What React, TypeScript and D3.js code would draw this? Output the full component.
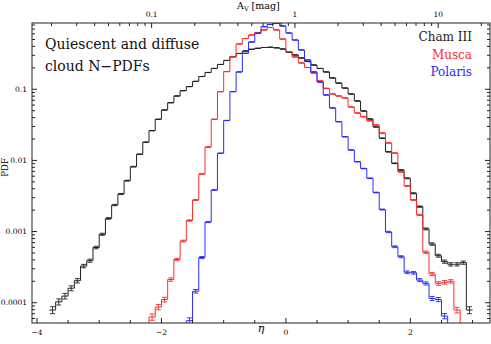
import React, { useEffect, useRef } from "react";
import * as d3 from "d3";

// histogram bin width in eta = ln(A_V / A_V0)
const BIN = 0.1;
const AV0 = 0.865;

const chamStart = -3.8;
const chamPdf = [
  7.9e-5, 1.03e-4, 1.24e-4, 1.6e-4, 2.04e-4, 3.28e-4, 3.9e-4, 5.97e-4, 9.16e-4, 1.53e-3,
  2.36e-3, 3.37e-3, 5.19e-3, 8.16e-3, 0.0122, 0.018, 0.0262, 0.0378, 0.0511, 0.0647,
  0.0804, 0.0955, 0.109, 0.129, 0.151, 0.172, 0.196, 0.223, 0.254, 0.288,
  0.318, 0.345, 0.364, 0.376, 0.386, 0.389, 0.382, 0.368, 0.333, 0.303,
  0.275, 0.245, 0.219, 0.196, 0.175, 0.144, 0.122, 0.104, 0.0858, 0.0684,
  0.0494, 0.0382, 0.0295, 0.0205, 0.0132, 0.0091, 0.00733, 0.00561, 0.00345, 0.00224,
  0.00109, 6.68e-4, 4.58e-4, 3.78e-4, 3.47e-4, 3.47e-4, 3.66e-4, 7.9e-5,
];

const muscaStart = -2.2;
const muscaPdf = [
  6.3e-5, 8.7e-5, 1.11e-4, 2.12e-4, 4.05e-4, 7.36e-4, 1.43e-3, 2.78e-3, 6.44e-3, 0.0154,
  0.0378, 0.0925, 0.177, 0.284, 0.433, 0.516, 0.578, 0.627, 0.681, 0.738,
  0.681, 0.508, 0.339, 0.284, 0.234, 0.202, 0.169, 0.131, 0.103, 0.0858,
  0.0804, 0.0754, 0.0563, 0.0463, 0.0411, 0.0361, 0.0315, 0.0243, 0.0176, 0.0127,
  0.00687, 0.00437, 0.00278, 0.00171, 5.12e-4, 2.54e-4, 1.87e-4, 1.94e-4, 2.0e-4, 7.9e-5,
];

const polarisStart = -1.6;
const polarisPdf = [
  5.6e-5, 1.45e-4, 4.32e-4, 1.36e-3, 3.84e-3, 0.0126, 0.0364, 0.0925, 0.175, 0.32,
  0.461, 0.611, 0.757, 0.813, 0.853, 0.774, 0.617, 0.492, 0.356, 0.258,
  0.175, 0.126, 0.083, 0.0546, 0.035, 0.0215, 0.014, 0.00959, 0.00769, 0.00561,
  0.00354, 0.00204, 9.86e-4, 6.12e-4, 4.43e-4, 2.68e-4, 2.64e-4, 2.08e-4, 1.87e-4, 1.15e-4,
  1.11e-4, 6.5e-5,
];

const series = [
  { name: "Cham III", start: chamStart, values: chamPdf, color: "#222222", err: 0.001, closed: false },
  { name: "Musca", start: muscaStart, values: muscaPdf, color: "#ff2a2a", err: 0.0008, closed: true },
  { name: "Polaris", start: polarisStart, values: polarisPdf, color: "#2a2aff", err: 0.0007, closed: true },
];

const etaLabels = [-4, -2, 0, 2];
const pdfLabels = [0.1, 0.01, 0.001, 0.0001];
const avLabels = [0.1, 1, 10];

function App() {
  const svgRef = useRef(null);

  useEffect(() => {
    const W = 491;
    const H = 344;
    const margin = { top: 23, right: 1, bottom: 21, left: 32 };
    const width = W - margin.left - margin.right;
    const height = H - margin.top - margin.bottom;

    const root = d3.select(svgRef.current).attr("width", W).attr("height", H);
    root.selectAll("*").remove();

    const svg = root.append("g").attr("transform", `translate(${margin.left},${margin.top})`);

    let x = d3.scaleLinear().domain([-4.08, 3.28]).range([0, width]);
    let y = d3.scaleLog().domain([5.19e-5, 0.853]).range([height, 0]);
    let av = d3
      .scaleLog()
      .domain(x.domain().map((e) => AV0 * Math.exp(e)))
      .range([0, width]);

    const font = "'DejaVu Serif', serif";

    root
      .append("defs")
      .append("clipPath")
      .attr("id", "plotclip")
      .append("rect")
      .attr("width", width)
      .attr("height", height);

    // histograms
    const plot = svg.append("g").attr("clip-path", "url(#plotclip)");
    const yMin = y.domain()[0];
    const line = d3
      .line<[number, number]>()
      .x((d) => x(d[0]))
      .y((d) => y(d[1]))
      .curve(d3.curveStepAfter);

    series.forEach((s) => {
      const n = s.values.length;
      const pts: [number, number][] = s.values.map((v, i) => [s.start + i * BIN, v]);
      pts.push([s.start + n * BIN, s.values[n - 1]]);
      if (s.closed) {
        pts.unshift([s.start, yMin]);
        pts.push([s.start + n * BIN, yMin]);
      }
      plot
        .append("path")
        .attr("d", line(pts))
        .attr("fill", "none")
        .attr("stroke", s.color)
        .attr("stroke-width", 1);

      // poisson-like error bars at bin centres
      const eb = plot.append("g").attr("stroke", s.color).attr("stroke-width", 0.9);
      s.values.forEach((v, i) => {
        const cx = x(s.start + (i + 0.5) * BIN);
        const e = s.err / Math.sqrt(v);
        const y0 = y(v * (1 + e));
        const y1 = y(v * (1 - e));
        eb.append("line").attr("x1", cx).attr("x2", cx).attr("y1", y0).attr("y2", y1);
        eb.append("line").attr("x1", cx - 2.5).attr("x2", cx + 2.5).attr("y1", y0).attr("y2", y0);
        eb.append("line").attr("x1", cx - 2.5).attr("x2", cx + 2.5).attr("y1", y1).attr("y2", y1);
      });
    });

    // frame
    svg
      .append("rect")
      .attr("width", width)
      .attr("height", height)
      .attr("fill", "none")
      .attr("stroke", "#222")
      .attr("stroke-width", 1);

    const ticks = svg.append("g").attr("stroke", "#222").attr("stroke-width", 1);

    // bottom eta ticks, every 0.5
    d3.range(-4, 3.5, 0.5).forEach((t) => {
      const major = etaLabels.includes(t);
      const len = major ? 5 : 3;
      ticks.append("line").attr("x1", x(t)).attr("x2", x(t)).attr("y1", height).attr("y2", height - len);
    });
    svg
      .append("g")
      .selectAll("text")
      .data(etaLabels)
      .join("text")
      .attr("x", (d) => x(d))
      .attr("y", height + 12)
      .attr("text-anchor", "middle")
      .attr("font-family", font)
      .attr("font-size", 7.5)
      .text((d) => (d < 0 ? "\u2212" + Math.abs(d) : String(d)));

    // top A_V ticks
    const [a0, a1] = av.domain();
    for (let dec = -2; dec <= 1; dec++) {
      for (let m = 1; m <= 9; m++) {
        const v = m * Math.pow(10, dec);
        if (v < a0 || v > a1) continue;
        const len = m === 1 ? 5 : 3;
        ticks.append("line").attr("x1", av(v)).attr("x2", av(v)).attr("y1", 0).attr("y2", len);
      }
    }
    svg
      .append("g")
      .selectAll("text")
      .data(avLabels)
      .join("text")
      .attr("x", (d) => av(d))
      .attr("y", -6.5)
      .attr("text-anchor", "middle")
      .attr("font-family", font)
      .attr("font-size", 7.5)
      .text((d) => String(d));

    // left and right pdf ticks
    for (let dec = -5; dec <= -1; dec++) {
      for (let m = 1; m <= 9; m++) {
        const v = m * Math.pow(10, dec);
        if (v < yMin || v > y.domain()[1]) continue;
        const len = m === 1 ? 5 : 3;
        ticks.append("line").attr("x1", 0).attr("x2", len).attr("y1", y(v)).attr("y2", y(v));
        ticks.append("line").attr("x1", width).attr("x2", width - len).attr("y1", y(v)).attr("y2", y(v));
      }
    }
    svg
      .append("g")
      .selectAll("text")
      .data(pdfLabels)
      .join("text")
      .attr("x", -5)
      .attr("y", (d) => y(d) + 2.7)
      .attr("text-anchor", "end")
      .attr("font-family", font)
      .attr("font-size", 7.5)
      .text((d) => String(d));

    // axis titles
    svg
      .append("text")
      .attr("transform", "rotate(-90)")
      .attr("x", -(y(0.01) + 7))
      .attr("y", -24)
      .attr("text-anchor", "middle")
      .attr("font-family", font)
      .attr("font-size", 8.5)
      .text("PDF");

    svg
      .append("text")
      .attr("x", x(-0.4))
      .attr("y", height + 9)
      .attr("text-anchor", "middle")
      .attr("font-family", font)
      .attr("font-style", "italic")
      .attr("font-size", 11)
      .text("\u03b7");

    const avTitle = svg
      .append("text")
      .attr("x", width / 2 - 24)
      .attr("y", -14)
      .attr("font-family", font)
      .attr("font-size", 9.5);
    avTitle.append("tspan").text("A");
    avTitle.append("tspan").attr("font-size", 6.5).attr("dy", 2).text("V");
    avTitle.append("tspan").attr("dy", -2).text(" [mag]");

    // panel title
    const title = svg
      .append("text")
      .attr("font-family", font)
      .attr("font-size", 14)
      .attr("fill", "#111");
    title.append("tspan").attr("x", 13).attr("y", 26).text("Quiescent and diffuse");
    title.append("tspan").attr("x", 13).attr("y", 48).text("cloud N\u2212PDFs");

    // legend
    svg
      .append("g")
      .selectAll("text")
      .data(series)
      .join("text")
      .attr("x", width - 18)
      .attr("y", (d, i) => 18 + i * 17.7)
      .attr("text-anchor", "end")
      .attr("font-family", font)
      .attr("font-size", 12)
      .attr("fill", (d) => d.color)
      .text((d) => d.name);
  }, []);

  return (
    <div style={{ position: "absolute", left: 0, top: 0 }}>
      <svg ref={svgRef}></svg>
    </div>
  );
}

export default App;
